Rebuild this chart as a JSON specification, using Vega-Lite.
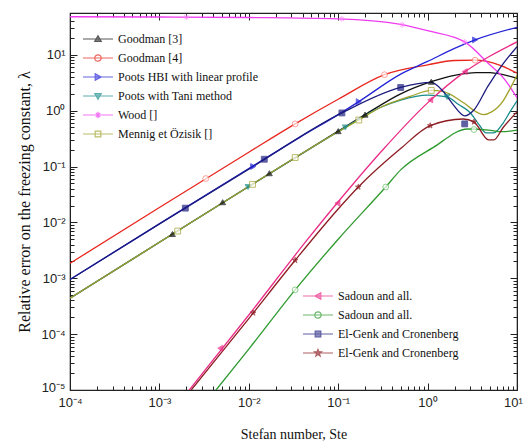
{
  "$schema": "https://vega.github.io/schema/vega-lite/v6.json",
  "width": 447,
  "height": 377,
  "autosize": {"type": "none"},
  "padding": {"left": 70, "top": 13, "right": 7, "bottom": 55},
  "background": "white",
  "config": {
    "view": {"stroke": "#222", "strokeWidth": 1.2},
    "font": "Liberation Sans",
    "legend": {"labelFont": "Liberation Serif", "labelFontSize": 12, "labelColor": "#111", "symbolSize": 64, "symbolStrokeWidth": 1.2, "padding": 0, "rowPadding": 7, "labelOffset": 3, "title": null}
  },
  "datasets": {
    "curves": [
      {"series": "Goodman [3]", "Ste": 0.0001, "err": 0.00044},
      {"series": "Goodman [3]", "Ste": 0.001, "err": 0.0044},
      {"series": "Goodman [3]", "Ste": 0.01, "err": 0.044},
      {"series": "Goodman [3]", "Ste": 0.1, "err": 0.43},
      {"series": "Goodman [3]", "Ste": 0.2, "err": 0.85},
      {"series": "Goodman [3]", "Ste": 0.5, "err": 2.0},
      {"series": "Goodman [3]", "Ste": 1.1, "err": 3.3},
      {"series": "Goodman [3]", "Ste": 2, "err": 4.3},
      {"series": "Goodman [3]", "Ste": 3.5, "err": 4.8},
      {"series": "Goodman [3]", "Ste": 5, "err": 4.8},
      {"series": "Goodman [3]", "Ste": 7, "err": 4.4},
      {"series": "Goodman [3]", "Ste": 10, "err": 3.8},

      {"series": "Goodman [4]", "Ste": 0.0001, "err": 0.00185},
      {"series": "Goodman [4]", "Ste": 0.001, "err": 0.0185},
      {"series": "Goodman [4]", "Ste": 0.01, "err": 0.18},
      {"series": "Goodman [4]", "Ste": 0.033, "err": 0.58},
      {"series": "Goodman [4]", "Ste": 0.1, "err": 1.6},
      {"series": "Goodman [4]", "Ste": 0.33, "err": 4.4},
      {"series": "Goodman [4]", "Ste": 1, "err": 6.6},
      {"series": "Goodman [4]", "Ste": 2, "err": 7.9},
      {"series": "Goodman [4]", "Ste": 3.4, "err": 8.0},
      {"series": "Goodman [4]", "Ste": 6.6, "err": 6.4},
      {"series": "Goodman [4]", "Ste": 10, "err": 4.7},

      {"series": "Poots HBI with linear profile", "Ste": 0.0001, "err": 0.00095},
      {"series": "Poots HBI with linear profile", "Ste": 0.001, "err": 0.0094},
      {"series": "Poots HBI with linear profile", "Ste": 0.01, "err": 0.092},
      {"series": "Poots HBI with linear profile", "Ste": 0.038, "err": 0.34},
      {"series": "Poots HBI with linear profile", "Ste": 0.1, "err": 0.85},
      {"series": "Poots HBI with linear profile", "Ste": 0.17, "err": 1.45},
      {"series": "Poots HBI with linear profile", "Ste": 0.5, "err": 4.5},
      {"series": "Poots HBI with linear profile", "Ste": 1, "err": 7.6},
      {"series": "Poots HBI with linear profile", "Ste": 2, "err": 13},
      {"series": "Poots HBI with linear profile", "Ste": 3.4, "err": 18.5},
      {"series": "Poots HBI with linear profile", "Ste": 10, "err": 31},

      {"series": "Poots with Tani method", "Ste": 0.0001, "err": 0.00044},
      {"series": "Poots with Tani method", "Ste": 0.001, "err": 0.0044},
      {"series": "Poots with Tani method", "Ste": 0.01, "err": 0.044},
      {"series": "Poots with Tani method", "Ste": 0.1, "err": 0.42},
      {"series": "Poots with Tani method", "Ste": 0.3, "err": 1.15},
      {"series": "Poots with Tani method", "Ste": 0.5, "err": 1.55},
      {"series": "Poots with Tani method", "Ste": 1, "err": 1.9},
      {"series": "Poots with Tani method", "Ste": 1.65, "err": 1.76},
      {"series": "Poots with Tani method", "Ste": 2.2, "err": 1.3},
      {"series": "Poots with Tani method", "Ste": 3, "err": 0.92},
      {"series": "Poots with Tani method", "Ste": 3.8, "err": 0.55},
      {"series": "Poots with Tani method", "Ste": 4.5, "err": 0.4},
      {"series": "Poots with Tani method", "Ste": 5.5, "err": 0.4},
      {"series": "Poots with Tani method", "Ste": 7, "err": 0.6},
      {"series": "Poots with Tani method", "Ste": 8.5, "err": 1.0},
      {"series": "Poots with Tani method", "Ste": 10, "err": 1.5},

      {"series": "Wood []", "Ste": 0.0001, "err": 48},
      {"series": "Wood []", "Ste": 0.001, "err": 47.5},
      {"series": "Wood []", "Ste": 0.01, "err": 46.5},
      {"series": "Wood []", "Ste": 0.1, "err": 44},
      {"series": "Wood []", "Ste": 0.5, "err": 35},
      {"series": "Wood []", "Ste": 1, "err": 27},
      {"series": "Wood []", "Ste": 2.6, "err": 17},
      {"series": "Wood []", "Ste": 4.7, "err": 7.2},
      {"series": "Wood []", "Ste": 7.3, "err": 3.6},
      {"series": "Wood []", "Ste": 10, "err": 1.7},

      {"series": "Mennig et Özisik []", "Ste": 0.0001, "err": 0.00044},
      {"series": "Mennig et Özisik []", "Ste": 0.001, "err": 0.0044},
      {"series": "Mennig et Özisik []", "Ste": 0.01, "err": 0.044},
      {"series": "Mennig et Özisik []", "Ste": 0.1, "err": 0.42},
      {"series": "Mennig et Özisik []", "Ste": 0.17, "err": 0.68},
      {"series": "Mennig et Özisik []", "Ste": 0.3, "err": 1.15},
      {"series": "Mennig et Özisik []", "Ste": 0.64, "err": 1.8},
      {"series": "Mennig et Özisik []", "Ste": 1.1, "err": 2.3},
      {"series": "Mennig et Özisik []", "Ste": 1.5, "err": 2.2},
      {"series": "Mennig et Özisik []", "Ste": 2.5, "err": 1.4},
      {"series": "Mennig et Özisik []", "Ste": 3.5, "err": 0.95},
      {"series": "Mennig et Özisik []", "Ste": 4.2, "err": 0.85},
      {"series": "Mennig et Özisik []", "Ste": 5.2, "err": 0.95},
      {"series": "Mennig et Özisik []", "Ste": 7, "err": 1.5},
      {"series": "Mennig et Özisik []", "Ste": 8.5, "err": 2.6},
      {"series": "Mennig et Özisik []", "Ste": 10, "err": 4.3},

      {"series": "Sadoun and all.", "Ste": 0.0015, "err": 0.0000048},
      {"series": "Sadoun and all.", "Ste": 0.01, "err": 0.00022},
      {"series": "Sadoun and all.", "Ste": 0.0447, "err": 0.0048},
      {"series": "Sadoun and all.", "Ste": 0.1, "err": 0.0234},
      {"series": "Sadoun and all.", "Ste": 0.316, "err": 0.2},
      {"series": "Sadoun and all.", "Ste": 1, "err": 1.38},
      {"series": "Sadoun and all.", "Ste": 2.63, "err": 5.0},
      {"series": "Sadoun and all.", "Ste": 5, "err": 9.5},
      {"series": "Sadoun and all.", "Ste": 10, "err": 17},

      {"series": "Sadoun and all. ", "Ste": 0.002, "err": 0.0000022},
      {"series": "Sadoun and all. ", "Ste": 0.0043, "err": 0.00001},
      {"series": "Sadoun and all. ", "Ste": 0.01, "err": 0.000054},
      {"series": "Sadoun and all. ", "Ste": 0.033, "err": 0.00062},
      {"series": "Sadoun and all. ", "Ste": 0.1, "err": 0.005},
      {"series": "Sadoun and all. ", "Ste": 0.34, "err": 0.043},
      {"series": "Sadoun and all. ", "Ste": 0.5, "err": 0.087},
      {"series": "Sadoun and all. ", "Ste": 1.16, "err": 0.22},
      {"series": "Sadoun and all. ", "Ste": 2.8, "err": 0.47},
      {"series": "Sadoun and all. ", "Ste": 4.8, "err": 0.45},
      {"series": "Sadoun and all. ", "Ste": 6.8, "err": 0.42},
      {"series": "Sadoun and all. ", "Ste": 10, "err": 0.45},

      {"series": "El-Genk and Cronenberg", "Ste": 0.0001, "err": 0.00095},
      {"series": "El-Genk and Cronenberg", "Ste": 0.001, "err": 0.0094},
      {"series": "El-Genk and Cronenberg", "Ste": 0.01, "err": 0.09},
      {"series": "El-Genk and Cronenberg", "Ste": 0.11, "err": 0.91},
      {"series": "El-Genk and Cronenberg", "Ste": 0.5, "err": 2.6},
      {"series": "El-Genk and Cronenberg", "Ste": 1.1, "err": 3.2},
      {"series": "El-Genk and Cronenberg", "Ste": 1.5, "err": 2.2},
      {"series": "El-Genk and Cronenberg", "Ste": 1.95, "err": 1.26},
      {"series": "El-Genk and Cronenberg", "Ste": 2.6, "err": 0.81},
      {"series": "El-Genk and Cronenberg", "Ste": 3.3, "err": 1.03},
      {"series": "El-Genk and Cronenberg", "Ste": 4.7, "err": 2.7},
      {"series": "El-Genk and Cronenberg", "Ste": 6.6, "err": 6.1},
      {"series": "El-Genk and Cronenberg", "Ste": 10, "err": 14},

      {"series": "El-Genk and Cronenberg ", "Ste": 0.0015, "err": 0.0000044},
      {"series": "El-Genk and Cronenberg ", "Ste": 0.01, "err": 0.00019},
      {"series": "El-Genk and Cronenberg ", "Ste": 0.033, "err": 0.0021},
      {"series": "El-Genk and Cronenberg ", "Ste": 0.1, "err": 0.0174},
      {"series": "El-Genk and Cronenberg ", "Ste": 0.168, "err": 0.043},
      {"series": "El-Genk and Cronenberg ", "Ste": 0.5, "err": 0.21},
      {"series": "El-Genk and Cronenberg ", "Ste": 1.07, "err": 0.54},
      {"series": "El-Genk and Cronenberg ", "Ste": 2.5, "err": 0.71},
      {"series": "El-Genk and Cronenberg ", "Ste": 3.3, "err": 0.63},
      {"series": "El-Genk and Cronenberg ", "Ste": 4.8, "err": 0.3},
      {"series": "El-Genk and Cronenberg ", "Ste": 5.5, "err": 0.3},
      {"series": "El-Genk and Cronenberg ", "Ste": 7, "err": 0.5},
      {"series": "El-Genk and Cronenberg ", "Ste": 10, "err": 0.95}
    ],
    "markers": [
      {"series": "Goodman [3]", "Ste": 0.0014, "err": 0.0062},
      {"series": "Goodman [3]", "Ste": 0.0051, "err": 0.023},
      {"series": "Goodman [3]", "Ste": 0.017, "err": 0.076},
      {"series": "Goodman [3]", "Ste": 0.1, "err": 0.43},
      {"series": "Goodman [3]", "Ste": 0.2, "err": 0.85},
      {"series": "Goodman [3]", "Ste": 1.1, "err": 3.3},
      {"series": "Goodman [4]", "Ste": 0.0033, "err": 0.061},
      {"series": "Goodman [4]", "Ste": 0.033, "err": 0.58},
      {"series": "Goodman [4]", "Ste": 0.33, "err": 4.4},
      {"series": "Goodman [4]", "Ste": 3.4, "err": 8.0},
      {"series": "Poots HBI with linear profile", "Ste": 0.0112, "err": 0.1},
      {"series": "Poots HBI with linear profile", "Ste": 0.17, "err": 1.45},
      {"series": "Poots HBI with linear profile", "Ste": 3.4, "err": 18.5},
      {"series": "Poots with Tani method", "Ste": 0.0098, "err": 0.043},
      {"series": "Poots with Tani method", "Ste": 0.12, "err": 0.5},
      {"series": "Poots with Tani method", "Ste": 1.65, "err": 1.76},
      {"series": "Wood []", "Ste": 0.002, "err": 47},
      {"series": "Wood []", "Ste": 0.11, "err": 44},
      {"series": "Wood []", "Ste": 0.52, "err": 34.5},
      {"series": "Wood []", "Ste": 2.6, "err": 17},
      {"series": "Mennig et Özisik []", "Ste": 0.0016, "err": 0.007},
      {"series": "Mennig et Özisik []", "Ste": 0.011, "err": 0.048},
      {"series": "Mennig et Özisik []", "Ste": 0.033, "err": 0.145},
      {"series": "Mennig et Özisik []", "Ste": 0.17, "err": 0.68},
      {"series": "Mennig et Özisik []", "Ste": 1.1, "err": 2.3},
      {"series": "Sadoun and all.", "Ste": 0.0048, "err": 0.000056},
      {"series": "Sadoun and all.", "Ste": 0.098, "err": 0.022},
      {"series": "Sadoun and all.", "Ste": 1.07, "err": 1.56},
      {"series": "Sadoun and all.", "Ste": 2.6, "err": 5.0},
      {"series": "Sadoun and all. ", "Ste": 0.033, "err": 0.00062},
      {"series": "Sadoun and all. ", "Ste": 0.34, "err": 0.043},
      {"series": "Sadoun and all. ", "Ste": 3.3, "err": 0.46},
      {"series": "El-Genk and Cronenberg", "Ste": 0.00195, "err": 0.018},
      {"series": "El-Genk and Cronenberg", "Ste": 0.0149, "err": 0.135},
      {"series": "El-Genk and Cronenberg", "Ste": 0.11, "err": 0.91},
      {"series": "El-Genk and Cronenberg", "Ste": 0.5, "err": 2.6},
      {"series": "El-Genk and Cronenberg", "Ste": 2.6, "err": 0.58},
      {"series": "El-Genk and Cronenberg ", "Ste": 0.0112, "err": 0.00024},
      {"series": "El-Genk and Cronenberg ", "Ste": 0.033, "err": 0.0021},
      {"series": "El-Genk and Cronenberg ", "Ste": 0.168, "err": 0.043},
      {"series": "El-Genk and Cronenberg ", "Ste": 1.07, "err": 0.54},
      {"series": "El-Genk and Cronenberg ", "Ste": 3.3, "err": 0.63}
    ]
  },
  "layer": [
    {
      "data": {"name": "curves"},
      "mark": {"type": "line", "interpolate": "monotone", "clip": true, "strokeWidth": 1.3},
      "encoding": {
        "x": {
          "field": "Ste", "type": "quantitative",
          "scale": {"type": "log", "domain": [0.0001, 10], "nice": false},
          "axis": {
            "orient": "bottom", "grid": false,
            "title": "Stefan number, Ste", "titleFont": "Liberation Serif", "titleFontSize": 14, "titleFontWeight": "normal", "titleColor": "#111", "titlePadding": 15,
            "values": [0.0001,0.0002,0.0003,0.0004,0.0005,0.0006,0.0007,0.0008,0.0009,0.001,0.002,0.003,0.004,0.005,0.006,0.007,0.008,0.009,0.01,0.02,0.03,0.04,0.05,0.06,0.07,0.08,0.09,0.1,0.2,0.3,0.4,0.5,0.6,0.7,0.8,0.9,1,2,3,4,5,6,7,8,9,10],
            "labelExpr": "abs(log(datum.value)/LN10 - round(log(datum.value)/LN10)) > 0.01 ? '' : '10' + (round(log(datum.value)/LN10) < 0 ? '⁻' : '') + substring('⁰¹²³⁴⁵⁶⁷⁸⁹', abs(round(log(datum.value)/LN10)), abs(round(log(datum.value)/LN10)) + 1)",
            "labelFlush": false, "labelOverlap": false, "labelFontSize": 13, "labelColor": "#222", "labelPadding": 13,
            "labelOffset": {"condition": {"test": "datum.value > 9.5", "value": -4}, "value": 0},
            "tickSize": {"condition": {"test": "abs(log(datum.value)/LN10 - round(log(datum.value)/LN10)) < 0.01", "value": -7}, "value": -4},
            "tickColor": "#222", "domainColor": "#222"
          }
        },
        "y": {
          "field": "err", "type": "quantitative",
          "scale": {"type": "log", "domain": [0.00001, 56], "nice": false},
          "axis": {
            "orient": "left", "grid": false,
            "title": "Relative error on the freezing constant, λ", "titleFont": "Liberation Serif", "titleFontSize": 16, "titleFontWeight": "normal", "titleColor": "#111", "titlePadding": 8,
            "values": [0.00001,0.00002,0.00003,0.00004,0.00005,0.00006,0.00007,0.00008,0.00009,0.0001,0.0002,0.0003,0.0004,0.0005,0.0006,0.0007,0.0008,0.0009,0.001,0.002,0.003,0.004,0.005,0.006,0.007,0.008,0.009,0.01,0.02,0.03,0.04,0.05,0.06,0.07,0.08,0.09,0.1,0.2,0.3,0.4,0.5,0.6,0.7,0.8,0.9,1,2,3,4,5,6,7,8,9,10,20,30,40,50],
            "labelExpr": "abs(log(datum.value)/LN10 - round(log(datum.value)/LN10)) > 0.01 ? '' : '10' + (round(log(datum.value)/LN10) < 0 ? '⁻' : '') + substring('⁰¹²³⁴⁵⁶⁷⁸⁹', abs(round(log(datum.value)/LN10)), abs(round(log(datum.value)/LN10)) + 1)",
            "labelFlush": false, "labelOverlap": false, "labelFontSize": 13, "labelColor": "#222", "labelPadding": 12,
            "labelOffset": {"condition": {"test": "datum.value < 0.000015", "value": -3}, "value": 0},
            "tickSize": {"condition": {"test": "abs(log(datum.value)/LN10 - round(log(datum.value)/LN10)) < 0.01", "value": -7}, "value": -4},
            "tickColor": "#222", "domainColor": "#222"
          }
        },
        "color": {
          "field": "series", "type": "nominal", "legend": null,
          "scale": {
            "domain": ["Goodman [3]", "Goodman [4]", "Poots HBI with linear profile", "Poots with Tani method", "Wood []", "Mennig et Özisik []", "Sadoun and all.", "Sadoun and all. ", "El-Genk and Cronenberg", "El-Genk and Cronenberg "],
            "range": ["#111111", "#e8261e", "#2424d8", "#1a8c8c", "#f03cf0", "#a0a02a", "#ea2c86", "#2e9a2e", "#1c1c7e", "#8c1c22"]
          }
        }
      }
    },
    {
      "data": {"name": "markers"},
      "mark": {"type": "point", "filled": true, "size": 34, "strokeWidth": 1, "clip": true},
      "encoding": {
        "x": {
          "field": "Ste", "type": "quantitative",
          "axis": {
            "orient": "top", "grid": false, "title": null, "labels": false,
            "values": [0.0001,0.0002,0.0003,0.0004,0.0005,0.0006,0.0007,0.0008,0.0009,0.001,0.002,0.003,0.004,0.005,0.006,0.007,0.008,0.009,0.01,0.02,0.03,0.04,0.05,0.06,0.07,0.08,0.09,0.1,0.2,0.3,0.4,0.5,0.6,0.7,0.8,0.9,1,2,3,4,5,6,7,8,9,10],
            "tickSize": {"condition": {"test": "abs(log(datum.value)/LN10 - round(log(datum.value)/LN10)) < 0.01", "value": -7}, "value": -4},
            "tickColor": "#222", "domainColor": "#222"
          }
        },
        "y": {
          "field": "err", "type": "quantitative",
          "axis": {
            "orient": "right", "grid": false, "title": null, "labels": false,
            "values": [0.00001,0.00002,0.00003,0.00004,0.00005,0.00006,0.00007,0.00008,0.00009,0.0001,0.0002,0.0003,0.0004,0.0005,0.0006,0.0007,0.0008,0.0009,0.001,0.002,0.003,0.004,0.005,0.006,0.007,0.008,0.009,0.01,0.02,0.03,0.04,0.05,0.06,0.07,0.08,0.09,0.1,0.2,0.3,0.4,0.5,0.6,0.7,0.8,0.9,1,2,3,4,5,6,7,8,9,10,20,30,40,50],
            "tickSize": {"condition": {"test": "abs(log(datum.value)/LN10 - round(log(datum.value)/LN10)) < 0.01", "value": -7}, "value": -4},
            "tickColor": "#222", "domainColor": "#222"
          }
        },
        "shape": {
          "field": "series", "type": "nominal", "legend": null,
          "scale": {
            "domain": ["Goodman [3]", "Goodman [4]", "Poots HBI with linear profile", "Poots with Tani method", "Wood []", "Mennig et Özisik []", "Sadoun and all.", "Sadoun and all. ", "El-Genk and Cronenberg", "El-Genk and Cronenberg "],
            "range": ["triangle-up", "circle", "triangle-right", "triangle-down", "M-1,0H1M0,-1V1M-0.7,-0.7L0.7,0.7M-0.7,0.7L0.7,-0.7", "square", "triangle-left", "circle", "square", "M0,-1L0.24,-0.33L0.95,-0.31L0.39,0.12L0.59,0.81L0,0.4L-0.59,0.81L-0.39,0.12L-0.95,-0.31L-0.24,-0.33Z"]
          }
        },
        "fill": {
          "field": "series", "type": "nominal", "legend": null,
          "scale": {
            "domain": ["Goodman [3]", "Goodman [4]", "Poots HBI with linear profile", "Poots with Tani method", "Wood []", "Mennig et Özisik []", "Sadoun and all.", "Sadoun and all. ", "El-Genk and Cronenberg", "El-Genk and Cronenberg "],
            "range": ["#111111", "#ffffff", "#2424d8", "#1a8c8c", "#ffffff", "#ffffff", "#ea2c86", "#ffffff", "#1c1c7e", "#8c1c22"]
          }
        },
        "stroke": {
          "field": "series", "type": "nominal", "legend": null,
          "scale": {
            "domain": ["Goodman [3]", "Goodman [4]", "Poots HBI with linear profile", "Poots with Tani method", "Wood []", "Mennig et Özisik []", "Sadoun and all.", "Sadoun and all. ", "El-Genk and Cronenberg", "El-Genk and Cronenberg "],
            "range": ["#111111", "#ff7a70", "#2424d8", "#1a8c8c", "#ff80ff", "#a0a02a", "#ea2c86", "#5fbf5f", "#1c1c7e", "#8c1c22"]
          }
        }
      }
    },
    {
      "data": {"name": "markers"},
      "transform": [{"filter": "false"}],
      "mark": {"type": "point", "filled": true, "strokeWidth": 1.2},
      "encoding": {
        "shape": {
          "field": "series", "type": "nominal",
          "legend": {"orient": "none", "legendX": 33, "legendY": 20, "title": null, "labelFont": "Liberation Serif", "labelFontSize": 12},
          "scale": {
            "domain": ["Goodman [3]", "Goodman [4]", "Poots HBI with linear profile", "Poots with Tani method", "Wood []", "Mennig et Özisik []"],
            "range": [
              "M-6.5,0H1M-2.75,-0.8L-1.95,0.6L-3.55,0.6Z",
              "M-6.5,0H1M-1.95,0A0.8,0.8 0 1,1 -3.55,0A0.8,0.8 0 1,1 -1.95,0Z",
              "M-6.5,0H1M-1.95,0L-3.45,-0.8L-3.45,0.8Z",
              "M-6.5,0H1M-2.75,0.8L-1.95,-0.6L-3.55,-0.6Z",
              "M-6.5,0H1M-3.55,0H-1.95M-2.75,-0.8V0.8M-3.3,-0.55L-2.2,0.55M-3.3,0.55L-2.2,-0.55",
              "M-6.5,0H1M-3.45,-0.7H-2.05V0.7H-3.45Z"
            ]
          }
        },
        "fill": {
          "field": "series", "type": "nominal",
          "legend": {"orient": "none", "legendX": 33, "legendY": 20, "title": null, "labelFont": "Liberation Serif", "labelFontSize": 12},
          "scale": {
            "domain": ["Goodman [3]", "Goodman [4]", "Poots HBI with linear profile", "Poots with Tani method", "Wood []", "Mennig et Özisik []"],
            "range": ["#111111", "#ffffff", "#2424d8", "#1a8c8c", "#ffffff", "#ffffff"]
          }
        },
        "stroke": {
          "field": "series", "type": "nominal",
          "legend": {"orient": "none", "legendX": 33, "legendY": 20, "title": null, "labelFont": "Liberation Serif", "labelFontSize": 12},
          "scale": {
            "domain": ["Goodman [3]", "Goodman [4]", "Poots HBI with linear profile", "Poots with Tani method", "Wood []", "Mennig et Özisik []"],
            "range": ["#111111", "#e8261e", "#2424d8", "#1a8c8c", "#f03cf0", "#a0a02a"]
          }
        }
      }
    },
    {
      "data": {"name": "markers"},
      "transform": [{"filter": "false"}],
      "mark": {"type": "point", "filled": true, "strokeWidth": 1.2},
      "encoding": {
        "shape": {
          "field": "series", "type": "nominal",
          "legend": {"orient": "none", "legendX": 253, "legendY": 277, "title": null, "labelFont": "Liberation Serif", "labelFontSize": 12},
          "scale": {
            "domain": ["Sadoun and all.", "Sadoun and all. ", "El-Genk and Cronenberg", "El-Genk and Cronenberg "],
            "range": [
              "M-6.5,0H1M-3.55,0L-2.05,-0.8L-2.05,0.8Z",
              "M-6.5,0H1M-1.95,0A0.8,0.8 0 1,1 -3.55,0A0.8,0.8 0 1,1 -1.95,0Z",
              "M-6.5,0H1M-3.45,-0.7H-2.05V0.7H-3.45Z",
              "M-6.5,0H1M-2.75,-0.9L-2.53,-0.3L-1.9,-0.28L-2.4,0.11L-2.22,0.73L-2.75,0.36L-3.28,0.73L-3.1,0.11L-3.6,-0.28L-2.97,-0.3Z"
            ]
          }
        },
        "fill": {
          "field": "series", "type": "nominal",
          "legend": {"orient": "none", "legendX": 253, "legendY": 277, "title": null, "labelFont": "Liberation Serif", "labelFontSize": 12},
          "scale": {
            "domain": ["Sadoun and all.", "Sadoun and all. ", "El-Genk and Cronenberg", "El-Genk and Cronenberg "],
            "range": ["#ea2c86", "#ffffff", "#1c1c7e", "#8c1c22"]
          }
        },
        "stroke": {
          "field": "series", "type": "nominal",
          "legend": {"orient": "none", "legendX": 253, "legendY": 277, "title": null, "labelFont": "Liberation Serif", "labelFontSize": 12},
          "scale": {
            "domain": ["Sadoun and all.", "Sadoun and all. ", "El-Genk and Cronenberg", "El-Genk and Cronenberg "],
            "range": ["#ea2c86", "#2e9a2e", "#1c1c7e", "#8c1c22"]
          }
        }
      }
    }
  ],
  "resolve": {"scale": {"color": "independent", "shape": "independent", "fill": "independent", "stroke": "independent"}}
}
